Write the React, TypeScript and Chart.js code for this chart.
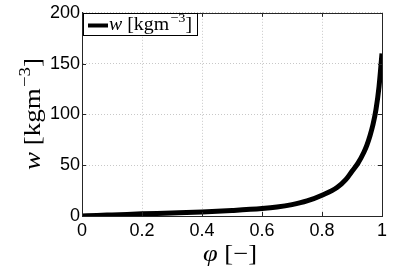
import React, { useEffect, useRef } from "react";
import { Chart, registerables } from "chart.js";

Chart.register(...registerables);

// relative humidity φ [-]
const phi = [0, 0.05, 0.1, 0.15, 0.2, 0.3, 0.4, 0.5, 0.6, 0.65, 0.7, 0.75, 0.8, 0.85, 0.88, 0.9, 0.92, 0.94, 0.95, 0.96, 0.97, 0.98, 0.99, 1.0];
// moisture content w [kg m^-3]
const moisture = [0, 0.6, 1.1, 1.6, 2.1, 3.0, 4.0, 5.4, 7.3, 8.8, 11.2, 14.8, 20.5, 28, 36, 44, 52, 63, 70, 79, 90, 105, 127, 160];
const xTicks = [0, 0.2, 0.4, 0.6, 0.8, 1];
const yTicks = [0, 50, 100, 150, 200];
const seriesName = "w";
const unitMain = " [kgm";
const unitSup = "\u22123";
const unitEnd = "]";
const xTitleSym = "\u03C6";
const xTitleRest = " [\u2212]";

const W = 409;
const H = 272;
const PL = 82;
const PR = 382;
const PT = 12;
const PB = 216;
const SERIF = "'Liberation Serif', 'DejaVu Serif', serif";
const SANS = "'Liberation Sans', Arial, sans-serif";

type Part = { t: string; italic?: boolean; sup?: boolean };

function drawParts(
  ctx: CanvasRenderingContext2D,
  parts: Part[],
  x: number,
  y: number,
  size: number,
  targetWidth: number,
  center: boolean
) {
  const supSize = Math.round(size * 0.7);
  const fontOf = (p: Part) =>
    `${p.italic ? "italic " : ""}${p.sup ? supSize : size}px ${SERIF}`;
  const widths = parts.map((p) => {
    ctx.font = fontOf(p);
    return ctx.measureText(p.t).width + (p.sup ? 1 : 0);
  });
  const total = widths.reduce((a, b) => a + b, 0);
  const sx = targetWidth / total;
  ctx.save();
  ctx.translate(center ? x - targetWidth / 2 : x, y);
  ctx.scale(sx, 1);
  ctx.textAlign = "left";
  ctx.textBaseline = "alphabetic";
  ctx.fillStyle = "#000";
  let cx = 0;
  parts.forEach((p, i) => {
    ctx.font = fontOf(p);
    ctx.fillText(p.t, cx + (p.sup ? 1 : 0), p.sup ? -size * 0.42 : 0);
    cx += widths[i];
  });
  ctx.restore();
}

const wParts: Part[] = [
  { t: seriesName, italic: true },
  { t: unitMain },
  { t: unitSup, sup: true },
  { t: unitEnd },
];
const phiParts: Part[] = [{ t: xTitleSym, italic: true }, { t: xTitleRest }];

const decorPlugin = {
  id: "decor",
  afterDatasetsDraw(chart: any) {
    const ctx: CanvasRenderingContext2D = chart.ctx;
    const { left, right, top, bottom } = chart.chartArea;
    const xs = chart.scales.x;
    const ys = chart.scales.y;
    ctx.save();
    // box
    ctx.strokeStyle = "#262626";
    ctx.lineWidth = 1;
    ctx.setLineDash([]);
    ctx.strokeRect(Math.round(left) + 0.5, Math.round(top) + 0.5, Math.round(right - left), Math.round(bottom - top));
    // inward ticks
    const tl = 4;
    ctx.beginPath();
    xTicks.forEach((v) => {
      const px = Math.round(xs.getPixelForValue(v)) + 0.5;
      ctx.moveTo(px, bottom);
      ctx.lineTo(px, bottom - tl);
      ctx.moveTo(px, top);
      ctx.lineTo(px, top + tl);
    });
    yTicks.forEach((v) => {
      const py = Math.round(ys.getPixelForValue(v)) + 0.5;
      ctx.moveTo(left, py);
      ctx.lineTo(left + tl, py);
      ctx.moveTo(right, py);
      ctx.lineTo(right - tl, py);
    });
    ctx.stroke();

    // legend
    const lx = 83;
    const ly = 13;
    const lw = 114;
    const lh = 22;
    ctx.fillStyle = "#fff";
    ctx.fillRect(lx, ly, lw, lh);
    ctx.strokeStyle = "#000";
    ctx.lineWidth = 1;
    ctx.strokeRect(lx + 0.5, ly + 0.5, lw, lh);
    ctx.beginPath();
    ctx.lineWidth = 4;
    ctx.moveTo(88, 25.5);
    ctx.lineTo(108, 25.5);
    ctx.stroke();
    drawParts(ctx, wParts, 109, 29.5, 18, 83, false);

    // x title
    drawParts(ctx, phiParts, 230, 261, 23, 54, true);

    // y title
    ctx.save();
    ctx.translate(40, 114);
    ctx.rotate(-Math.PI / 2);
    drawParts(ctx, wParts, 0, 0, 23, 112, true);
    ctx.restore();

    ctx.restore();
  },
};

export default function App() {
  const ref = useRef<HTMLCanvasElement>(null);
  useEffect(() => {
    const canvas = ref.current;
    if (!canvas) return;
    const chart = new Chart(canvas, {
      type: "line",
      data: {
        datasets: [
          {
            label: seriesName,
            data: phi.map((x, i) => ({ x, y: moisture[i] })),
            borderColor: "#000",
            backgroundColor: "#000",
            borderWidth: 5,
            pointRadius: 0,
            cubicInterpolationMode: "monotone",
            fill: false,
          },
        ],
      },
      options: {
        responsive: false,
        animation: false,
        devicePixelRatio: 1,
        layout: { padding: { left: 0, right: W - PR, top: PT, bottom: 0 } },
        plugins: { legend: { display: false }, tooltip: { enabled: false } },
        scales: {
          x: {
            type: "linear",
            min: 0,
            max: 1,
            afterBuildTicks: (s: any) => {
              s.ticks = xTicks.map((v) => ({ value: v }));
            },
            afterFit: (s: any) => {
              s.height = H - PB;
            },
            ticks: {
              font: { family: SANS, size: 18 },
              color: "#000",
              padding: 4,
              maxRotation: 0,
              autoSkip: false,
              callback: (v: any) => String(v),
            },
            grid: { color: "#c8c8c8", lineWidth: 1, drawTicks: false },
            border: { display: true, color: "#262626", dash: [1, 2] },
          },
          y: {
            type: "linear",
            min: 0,
            max: 200,
            afterBuildTicks: (s: any) => {
              s.ticks = yTicks.map((v) => ({ value: v }));
            },
            afterFit: (s: any) => {
              s.width = PL;
            },
            ticks: {
              font: { family: SANS, size: 18 },
              color: "#000",
              padding: 2,
              autoSkip: false,
              callback: (v: any) => String(v),
            },
            grid: { color: "#c8c8c8", lineWidth: 1, drawTicks: false },
            border: { display: true, color: "#262626", dash: [1, 2] },
          },
        },
      },
      plugins: [decorPlugin],
    } as any);
    return () => chart.destroy();
  }, []);
  return (
    <div style={{ position: "fixed", left: 0, top: 0, width: W, height: H, background: "#fff" }}>
      <canvas ref={ref} width={W} height={H} style={{ display: "block", width: W, height: H }} />
    </div>
  );
}
